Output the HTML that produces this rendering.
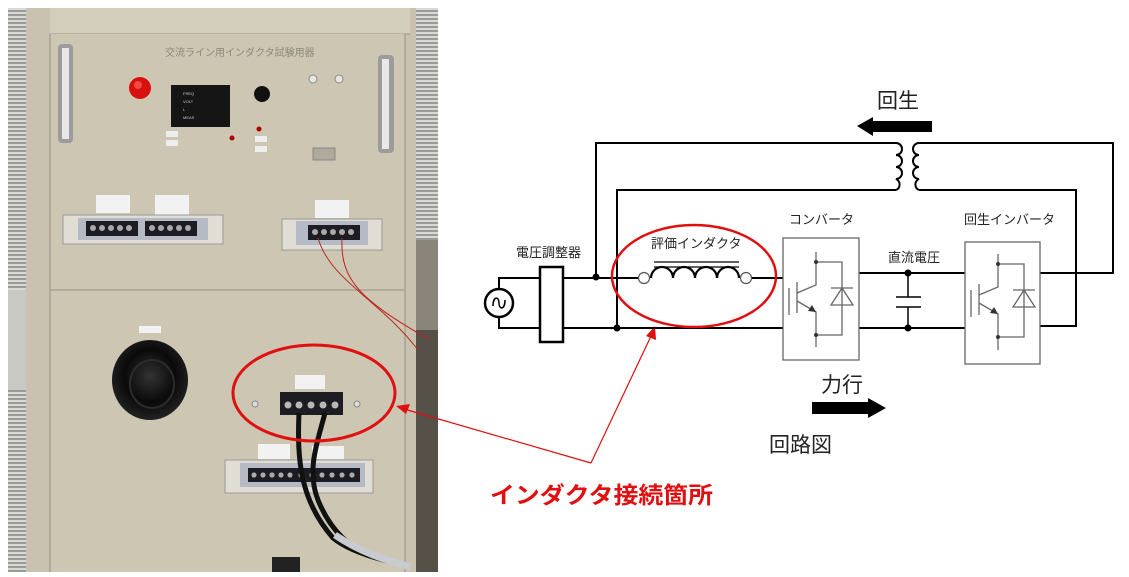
<!DOCTYPE html>
<html><head><meta charset="utf-8"><style>
html,body{margin:0;padding:0;background:#fff;width:1129px;height:577px;overflow:hidden}
svg{display:block}
text{font-family:"Liberation Sans","Noto Sans CJK JP",sans-serif}
</style></head><body>
<svg width="1129" height="577" viewBox="0 0 1129 577" xmlns="http://www.w3.org/2000/svg">
<defs>
<pattern id="stripes" width="6" height="4" patternUnits="userSpaceOnUse"><rect width="6" height="4" fill="#9a9a98"/><rect width="6" height="2" fill="#d8d8d6"/></pattern>
<radialGradient id="knob" cx="50%" cy="45%" r="55%"><stop offset="0" stop-color="#333"/><stop offset="0.6" stop-color="#0a0a0a"/><stop offset="1" stop-color="#222"/></radialGradient>
</defs>
<!-- PHOTO -->
<rect x="8" y="8" width="430" height="564" fill="#b9b3a4"/>
<rect x="8" y="8" width="18" height="564" fill="url(#stripes)"/>
<rect x="8" y="290" width="18" height="100" fill="#c8c8c4"/>
<rect x="413" y="8" width="25" height="564" fill="url(#stripes)"/>
<rect x="413" y="240" width="25" height="332" fill="#8a857a"/>
<rect x="415" y="330" width="23" height="242" fill="#555048"/>
<rect x="26" y="8" width="390" height="564" fill="#c9c2b0"/>
<rect x="50" y="8" width="360" height="26" fill="#d3cdbb"/>
<line x1="50" y1="34" x2="410" y2="34" fill="none" stroke="#9d9787" stroke-width="1"/>
<rect x="50" y="34" width="355" height="538" fill="#cdc6b3"/>
<line x1="50" y1="34" x2="50" y2="572" stroke="#a8a292" stroke-width="1.5"/>
<line x1="405" y1="34" x2="405" y2="572" stroke="#a8a292" stroke-width="1.5"/>
<line x1="50" y1="290" x2="405" y2="290" stroke="#aaa493" stroke-width="1.5"/>
<text x="165" y="56" font-size="10" fill="#8d8878">交流ライン用インダクタ試験用器</text>
<!-- handles -->
<rect x="58" y="44" width="15" height="99" rx="4" fill="#9c9c9c"/><rect x="62" y="48" width="7" height="91" fill="#e8e8e8"/>
<rect x="378" y="55" width="16" height="98" rx="4" fill="#9c9c9c"/><rect x="382" y="59" width="7" height="90" fill="#e8e8e8"/>
<circle cx="140" cy="88" r="11" fill="#d81010"/><circle cx="138" cy="85" r="4" fill="#f04a40"/>
<rect x="171" y="85" width="59" height="42" fill="#151515"/>
<text x="183" y="95" font-size="4" fill="#ccc">FREQ</text><text x="183" y="103" font-size="4" fill="#ccc">VOLT</text><text x="183" y="111" font-size="4" fill="#ccc">L</text><text x="183" y="119" font-size="4" fill="#ccc">MEAS</text>
<circle cx="262" cy="94" r="8" fill="#111"/>
<circle cx="313" cy="79" r="4" fill="#e8e6e0" stroke="#888"/><circle cx="339" cy="79" r="4" fill="#e8e6e0" stroke="#888"/>
<rect x="166" y="131" width="12" height="6" fill="#eee"/><rect x="166" y="140" width="12" height="6" fill="#eee"/>
<rect x="255" y="136" width="12" height="6" fill="#eee"/><rect x="255" y="146" width="12" height="6" fill="#eee"/>
<circle cx="232" cy="138" r="2.5" fill="#a00"/><circle cx="259" cy="129" r="2.5" fill="#a00"/>
<rect x="313" y="148" width="22" height="12" fill="#b0aa9c" stroke="#888"/>
<!-- terminal strips -->
<rect x="96" y="195" width="34" height="18" fill="#f2f2f2"/><rect x="155" y="195" width="34" height="20" fill="#f2f2f2"/>
<rect x="63" y="215" width="160" height="29" fill="#e0ddd5" stroke="#999"/>
<rect x="78" y="218" width="130" height="22" fill="#b6bac4"/>
<rect x="86" y="221" width="52" height="15" fill="#1c1c22"/><rect x="145" y="221" width="52" height="15" fill="#1c1c22"/>
<g fill="#aaa"><circle cx="93" cy="228" r="3"/><circle cx="102" cy="228" r="3"/><circle cx="111" cy="228" r="3"/><circle cx="120" cy="228" r="3"/><circle cx="129" cy="228" r="3"/><circle cx="152" cy="228" r="3"/><circle cx="161" cy="228" r="3"/><circle cx="170" cy="228" r="3"/><circle cx="179" cy="228" r="3"/><circle cx="188" cy="228" r="3"/></g>
<rect x="315" y="200" width="34" height="18" fill="#f2f2f2"/>
<rect x="282" y="219" width="100" height="31" fill="#e0ddd5" stroke="#999"/>
<rect x="296" y="221" width="72" height="24" fill="#b6bac4"/>
<rect x="308" y="225" width="52" height="15" fill="#1c1c22"/>
<g fill="#aaa"><circle cx="315" cy="232" r="3"/><circle cx="324" cy="232" r="3"/><circle cx="333" cy="232" r="3"/><circle cx="342" cy="232" r="3"/><circle cx="351" cy="232" r="3"/></g>
<path d="M318 238 C330 280 380 300 418 350" fill="none" stroke="#b03020" stroke-width="1"/>
<path d="M342 238 C340 280 360 300 430 340" fill="none" stroke="#c02020" stroke-width="1"/>
<!-- big knob -->
<rect x="139" y="326" width="22" height="7" fill="#f2f2f2"/>
<ellipse cx="150" cy="380" rx="38" ry="40" fill="url(#knob)"/>
<ellipse cx="152" cy="384" rx="22" ry="24" fill="none" stroke="#2c2c2c" stroke-width="2"/>
<!-- terminal in ellipse -->
<rect x="295" y="375" width="30" height="14" fill="#f2f2f2"/>
<circle cx="255" cy="404" r="3" fill="#ddd" stroke="#888"/><circle cx="357" cy="404" r="3" fill="#ddd" stroke="#888"/>
<rect x="280" y="392" width="63" height="23" fill="#1c1c22"/>
<g fill="#b8b8b8"><circle cx="288" cy="405" r="3.5"/><circle cx="299" cy="405" r="3.5"/><circle cx="311" cy="405" r="3.5"/><circle cx="323" cy="405" r="3.5"/><circle cx="335" cy="405" r="3.5"/></g>
<!-- bottom strip -->
<rect x="258" y="444" width="32" height="15" fill="#f2f2f2"/><rect x="312" y="446" width="32" height="13" fill="#f2f2f2"/>
<rect x="225" y="460" width="148" height="33" fill="#e0ddd5" stroke="#999"/>
<rect x="240" y="463" width="125" height="24" fill="#b6bac4"/>
<rect x="248" y="468" width="112" height="14" fill="#1c1c22"/>
<g fill="#aaa"><circle cx="254" cy="475" r="2.6"/><circle cx="263" cy="475" r="2.6"/><circle cx="272" cy="475" r="2.6"/><circle cx="281" cy="475" r="2.6"/><circle cx="290" cy="475" r="2.6"/><circle cx="301" cy="475" r="2.6"/><circle cx="312" cy="475" r="2.6"/><circle cx="322" cy="475" r="2.6"/><circle cx="332" cy="475" r="2.6"/><circle cx="342" cy="475" r="2.6"/><circle cx="352" cy="475" r="2.6"/></g>
<!-- cables -->
<path d="M299 413 C297 460 300 500 333 538 C350 552 380 560 405 565" fill="none" stroke="#111" stroke-width="5"/>
<path d="M325 413 C318 440 306 470 318 500 C328 525 345 545 370 556" fill="none" stroke="#111" stroke-width="5"/>
<path d="M335 535 C360 552 385 560 410 567" fill="none" stroke="#c8ccd0" stroke-width="7"/>
<rect x="272" y="557" width="28" height="15" fill="#222"/>
<!-- photo red ellipse & arrow -->
<ellipse cx="314" cy="393" rx="81" ry="48" fill="none" stroke="#e01010" stroke-width="3"/>
<line x1="591" y1="463" x2="404" y2="409" stroke="#e01010" stroke-width="1.2"/>
<polygon points="396,406 410,404 406,414" fill="#e01010"/>
<line x1="591" y1="463" x2="652" y2="334" stroke="#e01010" stroke-width="1.2"/>
<polygon points="655,326 656,340 646,336" fill="#e01010"/>
<text x="490" y="503" font-size="23" font-weight="bold" fill="#e01010" textLength="223" lengthAdjust="spacingAndGlyphs">インダクタ接続箇所</text>

<!-- CIRCUIT -->
<g stroke="#000" stroke-width="2" fill="none">
<polyline points="596,277 596,143 896,143"/>
<polyline points="919,143 1113,143 1113,273 1040,273"/>
<polyline points="617,328 617,190 896,190"/>
<polyline points="919,190 1076,190 1076,326 1040,326"/>
<path d="M896 143 a6 6 0 0 1 0 12 a6 6 0 0 1 0 12 a6 6 0 0 1 0 12 a6 6 0 0 1 0 11"/>
<path d="M919 143 a6 6 0 0 0 0 12 a6 6 0 0 0 0 12 a6 6 0 0 0 0 12 a6 6 0 0 0 0 11"/>
<polyline points="499,289 499,278 540,278"/>
<polyline points="499,317 499,328 540,328"/>
<circle cx="499" cy="303" r="14" stroke-width="2.5"/>
<path d="M493 306 c0-10 6-10 6 -3 c0 7 6 7 6 -3" stroke-width="1.5"/>
<rect x="540" y="267" width="23" height="75" stroke-width="2.5"/>
<line x1="563" y1="278" x2="639" y2="278"/>
<line x1="751" y1="278" x2="783" y2="278"/>
<line x1="563" y1="328" x2="783" y2="328"/>
<path d="M651 278 a11 11 0 0 1 22 0 a11 11 0 0 1 22 0 a11 11 0 0 1 22 0 a11 11 0 0 1 22 0" stroke-width="2.2"/>
<line x1="654" y1="262" x2="739" y2="262" stroke-width="1.3"/>
<line x1="654" y1="267" x2="739" y2="267" stroke-width="1.3"/>
<line x1="859" y1="273" x2="965" y2="273"/>
<line x1="859" y1="328" x2="965" y2="328"/>
<line x1="908" y1="273" x2="908" y2="297" stroke-width="1.5"/>
<line x1="908" y1="307" x2="908" y2="328" stroke-width="1.5"/>
<line x1="896" y1="297" x2="921" y2="297" stroke-width="1.5"/>
<line x1="896" y1="307" x2="921" y2="307" stroke-width="1.5"/>
</g>
<g fill="#000"><circle cx="596" cy="277" r="3.5"/><circle cx="617" cy="328" r="3.5"/><circle cx="908" cy="273" r="3.5"/><circle cx="908" cy="328" r="3.5"/></g>
<circle cx="644" cy="278" r="5.5" fill="#fff" stroke="#555" stroke-width="1.2"/>
<circle cx="746" cy="278" r="5.5" fill="#fff" stroke="#555" stroke-width="1.2"/>
<!-- converter box -->
<g stroke="#666" stroke-width="1.3" fill="none">
<rect x="783" y="238" width="76" height="122"/>
<polyline points="816,252 816,285 797,293"/><line x1="797" y1="282" x2="797" y2="313"/><line x1="789" y1="288" x2="789" y2="315"/>
<polyline points="797,301 816,312 816,347"/>
<polyline points="816,262 842,262 842,335 816,335"/>
<polygon points="842,288 831,305 853,305"/><line x1="831" y1="288" x2="853" y2="288"/>
<rect x="965" y="242" width="75" height="122"/>
<polyline points="998,254 998,287 979,295"/><line x1="979" y1="284" x2="979" y2="315"/><line x1="971" y1="290" x2="971" y2="317"/>
<polyline points="979,303 998,314 998,350"/>
<polyline points="998,264 1024,264 1024,337 998,337"/>
<polygon points="1024,290 1013,307 1035,307"/><line x1="1013" y1="290" x2="1035" y2="290"/>
</g>
<g fill="#333"><circle cx="816" cy="262" r="2"/><circle cx="816" cy="335" r="2"/><circle cx="998" cy="264" r="2"/><circle cx="998" cy="337" r="2"/>
<polygon points="816,312 808,311 812,305"/><polygon points="998,314 990,313 994,307"/></g>
<!-- red ellipse -->
<ellipse cx="694" cy="276" rx="82" ry="51" fill="none" stroke="#e01010" stroke-width="2.5"/>
<!-- labels -->
<g fill="#222">
<text x="516" y="257" font-size="13">電圧調整器</text>
<text x="651" y="248" font-size="13">評価インダクタ</text>
<text x="789" y="224" font-size="13">コンバータ</text>
<text x="964" y="224" font-size="13">回生インバータ</text>
<text x="888" y="262" font-size="13">直流電圧</text>
<text x="877" y="108" font-size="21">回生</text>
<text x="821" y="392" font-size="21">力行</text>
<text x="769" y="452" font-size="21">回路図</text>
</g>
<polygon points="857,126 873,117 873,121 932,121 932,132 873,132 873,136" fill="#000"/>
<polygon points="812,402 868,402 868,398 886,408 868,418 868,414 812,414" fill="#000"/>
</svg>
</body></html>
